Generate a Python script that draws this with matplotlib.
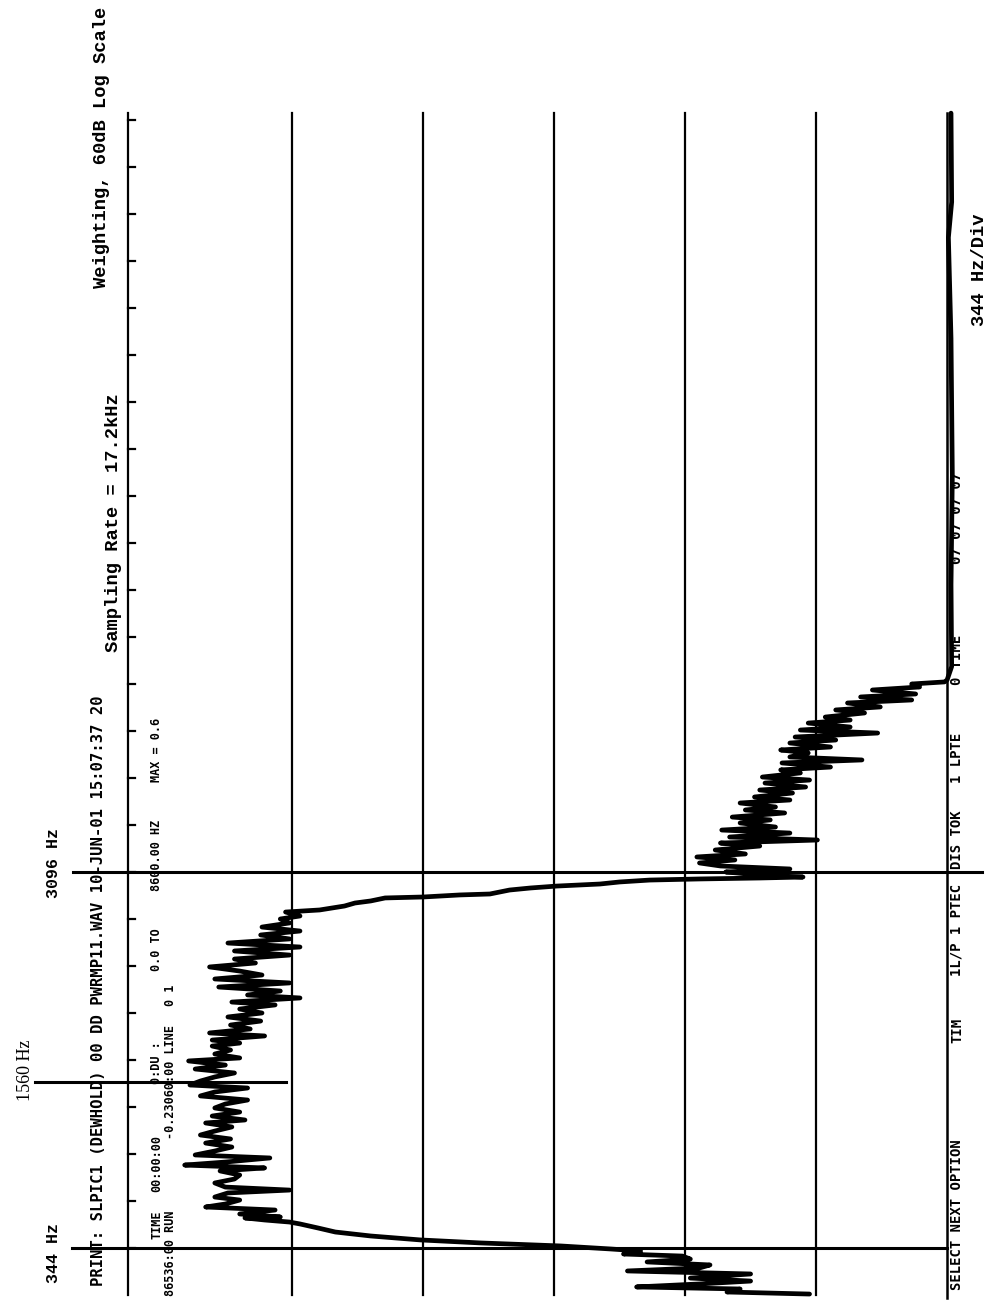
import matplotlib
matplotlib.use("Agg")
import matplotlib.pyplot as plt
import numpy as np

# spectrum trace, frequency in Hz and level in dB (floor at -60 dB)
low_stop_hz = [7, 22, 44, 59, 81, 102, 124, 154, 176, 198, 220, 242, 263, 285, 300, 322]
low_stop_db = [-49.5, -43.2, -44.2, -36.3, -41.1, -45.0, -40.4, -45.0, -35.6, -41.1,
               -41.9, -37.1, -40.4, -39.8, -35.3, -36.6]

rise_hz = [337, 359, 381, 403, 432, 461, 490, 520, 534, 549, 564]
rise_db = [-34.3, -30.5, -24.4, -19.8, -16.0, -13.3, -12.0, -10.6, -9.8, -7.9, -6.4]

pass_hz = [571, 593, 622, 644, 666, 695, 717, 747, 768, 790, 820, 849, 878, 908, 930,
           951, 973, 1003, 1025, 1054, 1083, 1112, 1142, 1171, 1200, 1230, 1259, 1281,
           1310, 1339, 1369, 1398, 1427, 1457, 1486, 1515, 1537, 1566, 1596, 1625, 1654,
           1683, 1713, 1735, 1764, 1793, 1822, 1844, 1866, 1896, 1918, 1947, 1976, 2005,
           2035, 2064, 2093, 2123, 2144, 2174, 2196, 2225, 2254, 2284, 2313, 2342, 2371,
           2401, 2430, 2459, 2488, 2518, 2547, 2576, 2606, 2635, 2664, 2693, 2723, 2752,
           2774, 2803]
pass_db = [-9.1, -6.0, -8.7, -3.4, -4.9, -6.0, -4.1, -5.1, -9.8, -4.9, -4.1, -5.6, -6.0,
           -4.5, -7.9, -1.8, -4.9, -8.3, -2.6, -4.1, -5.4, -3.4, -5.3, -3.0, -4.1, -5.4,
           -3.4, -6.4, -3.9, -6.0, -4.1, -4.9, -6.6, -3.0, -4.1, -6.6, -2.2, -3.0, -4.1,
           -5.6, -2.6, -4.9, -2.1, -6.0, -4.1, -5.3, -3.9, -6.0, -3.9, -7.9, -3.7, -6.8,
           -5.3, -7.6, -5.1, -7.7, -6.0, -8.7, -5.4, -10.6, -6.6, -9.1, -4.4, -9.8, -4.1,
           -7.7, -6.0, -3.7, -7.2, -5.6, -9.8, -5.6, -10.6, -5.1, -9.8, -7.6, -10.6, -7.7,
           -9.8, -9.1, -10.6, -9.5]

fall_hz = [2818, 2847, 2869, 2884, 2906, 2913, 2928, 2935, 2964, 2979, 2993, 3008, 3023,
           3037, 3045, 3052, 3059]
fall_db = [-12.1, -14.0, -14.8, -16.0, -17.1, -20.0, -22.8, -25.1, -26.6, -28.2, -30.2,
           -33.5, -35.0, -37.3, -41.1, -45.7, -49.0]

high_stop_hz = [3074, 3096, 3118, 3140, 3162, 3184, 3206, 3228, 3257, 3286, 3308, 3330,
                3352, 3381, 3403, 3425, 3455, 3477, 3498, 3528, 3550, 3572, 3601, 3623,
                3645, 3674, 3696, 3718, 3747, 3769, 3791, 3821, 3843, 3864, 3894, 3916,
                3938, 3967, 3989, 4011, 4040, 4062, 4084, 4113, 4135, 4157, 4186, 4208,
                4230, 4260, 4282, 4304, 4333, 4355, 4377, 4399, 4428, 4450, 4472, 4487, 4501]
high_stop_db = [-45.7, -43.1, -48.0, -42.7, -41.1, -43.8, -40.9, -44.6, -42.3, -45.7,
                -42.7, -50.1, -43.4, -48.0, -42.8, -46.9, -44.2, -46.5, -43.6, -47.6,
                -44.6, -46.9, -44.2, -48.0, -45.3, -48.2, -45.7, -49.2, -46.1, -49.5,
                -45.9, -48.8, -47.3, -51.1, -47.4, -53.5, -48.0, -49.4, -47.3, -51.1,
                -48.0, -51.5, -48.4, -54.7, -48.8, -52.6, -49.4, -52.6, -50.7, -53.7,
                -51.5, -54.9, -52.4, -57.3, -53.4, -57.6, -54.3, -57.9, -57.3, -59.8, -60.0]

floor_hz = [4600, 5200, 6000, 7000, 7740, 8000, 8650]
floor_db = [-60.35, -60.3, -60.4, -60.3, -60.1, -60.35, -60.3]

grid_db = [2.5, -10, -20, -30, -40, -50]
cursor_hz = [344, 1560, 3096]
cursor_span = [(6.8, -60.0), (9.6, -9.5), (6.7, -62.7)]

freq = np.concatenate([low_stop_hz, rise_hz, pass_hz, fall_hz, high_stop_hz, floor_hz])
level = np.concatenate([low_stop_db, rise_db, pass_db, fall_db, high_stop_db, floor_db])

W, H = 989, 1302
fig = plt.figure(figsize=(W / 100, H / 100), dpi=100)
ax = fig.add_axes([0, 0, 1, 1])
ax.set_xlim(12.3, -63.2)
ax.set_ylim(-51.2, 9478)
ax.axis("off")

# amplitude divisions
for lv in grid_db:
    ax.plot([lv, lv], [0, 8650], color="black", lw=1.6)
ax.plot([-60, -60], [-22, 8650], color="black", lw=1.8)

# frequency ticks every 344 Hz on the left edge
for f in np.arange(344, 8601, 344):
    ax.plot([2.5, 2.0], [f, f], color="black", lw=1.6)

# cursor lines
for f, (a, b) in zip(cursor_hz, cursor_span):
    ax.plot([a, b], [f, f], color="black", lw=2.2)

ax.plot(level, freq, color="black", lw=3.4, solid_joinstyle="round",
        solid_capstyle="round")


def label(xp, yp, s, size, family="Liberation Mono", weight="bold"):
    fig.text(xp / W, 1 - yp / H, s, rotation=90, ha="center", va="center",
             fontsize=size, family=family, fontweight=weight, color="black")


label(53, 1253, "344 Hz", 12)
label(25, 1070, "1560 Hz", 13, family="Liberation Serif", weight="normal")
label(53, 863, "3096 Hz", 12)

label(99, 991, "PRINT: SLPIC1 (DEWHOLD) 00 DD PWRMP11.WAV 10-JUN-01 15:07:37 20",
      11.2, family="DejaVu Sans Mono")
label(113, 523, "Sampling Rate = 17.2kHz", 13.5)
label(102, 147, "Weighting, 60dB Log Scale", 13.5)

dm = "DejaVu Sans Mono"
label(157, 1225, "TIME", 8.5, family=dm)
label(157, 1163, "00:00:00", 8.5, family=dm)
label(157, 1063, "0:DU :", 8.5, family=dm)
label(157, 950, "0.0 TO", 8.5, family=dm)
label(157, 855, "8600.00 HZ", 8.5, family=dm)
label(157, 750, "MAX = 0.6", 8.5, family=dm)
label(171, 1253, "86536:00 RUN", 8.5, family=dm)
label(171, 1082, "-0.23060:00 LINE", 8.5, family=dm)
label(171, 995, "0 1", 8.5, family=dm)

label(957, 1215, "SELECT NEXT OPTION", 10, family=dm)
label(957, 1030, "TIM", 10, family=dm)
label(957, 930, "1L/P 1 PTEC", 10, family=dm)
label(957, 840, "DIS TOK", 10, family=dm)
label(957, 758, "1 LPTE", 10, family=dm)
label(957, 660, "0 TIME", 10, family=dm)
label(957, 518, "07 07 07 07", 10, family=dm)

label(980, 270, "344 Hz/Div", 13.5)

fig.savefig("out.png", dpi=100, facecolor="white")
